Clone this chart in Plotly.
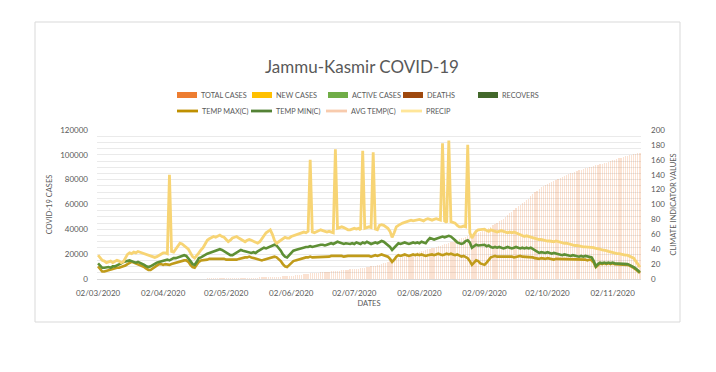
import plotly.graph_objects as go
import pandas as pd

# ---------------- data ----------------
dates = pd.date_range("2020-03-02", "2020-11-15", freq="D")

total_cases_mar = [0, 0, 0, 0, 0, 0, 0, 1, 1, 1, 1, 1, 2, 3, 3, 3, 4, 4, 4, 4, 7, 7, 11, 13, 18, 31, 38, 44, 55, 62]
total_cases_apr = [70, 75, 92, 106, 109, 125, 125, 158, 184, 207, 224, 245, 270, 278, 300, 314, 328, 341, 350, 354,
                   368, 380, 407, 434, 454, 494, 523, 546, 565, 614]
total_cases_may = [639, 666, 701, 726, 741, 775, 793, 823, 836, 861, 879, 934, 971, 983, 1013, 1121, 1183, 1289, 1317,
                   1390, 1449, 1489, 1569, 1621, 1668, 1759, 1817, 1921, 2036, 2164, 2341]
total_cases_jun = [2446, 2601, 2718, 2857, 3142, 3324, 3467, 3749, 3993, 4285, 4509, 4730, 4878, 5041, 5220, 5406,
                   5555, 5680, 5834, 5956, 6088, 6236, 6422, 6549, 6762, 6966, 7093, 7237, 7497, 7695]
total_cases_jul = [7849, 8019, 8206, 8429, 8675, 8931, 9061, 9501, 9889, 10156, 10513, 10827, 11173, 11666, 12156,
                   12757, 13198, 13899, 14650, 15258, 15711, 16236, 16782, 17305, 17927, 18390, 18879, 19418, 19927,
                   20359, 20972]
total_cases_aug = [21359, 21865, 22396, 22955, 23454, 23927, 24390, 24897, 25367, 25866, 26413, 26949, 27489, 28021,
                   28470, 29041, 29570, 30034, 30600, 31371, 31951, 32647, 33354, 33990, 34480, 35000, 35600, 36200,
                   36800, 37400, 37963]
total_cases_sep = [38600, 39200, 40000, 41200, 42100, 43100, 44000, 45300, 46600, 47500, 48700, 50100, 51600, 52900,
                   54100, 55600, 57000, 58700, 60000, 61000, 62000, 63300, 64800, 66500, 68200, 69800, 71000, 72400,
                   73800, 75000]
total_cases_oct = [76000, 76900, 77700, 78400, 79100, 80100, 80800, 81600, 82400, 83200, 83800, 84500, 85100, 85600,
                   86100, 86800, 87400, 87900, 88400, 89000, 89500, 90000, 90500, 91000, 91500, 92000, 92400, 92900,
                   93400, 93800, 94300]
total_cases_nov = [94900, 95600, 96200, 96800, 97300, 97800, 98300, 98800, 99300, 99800, 100200, 100600, 100900,
                   101200, 101500]
total_cases = (total_cases_mar + total_cases_apr + total_cases_may + total_cases_jun + total_cases_jul
               + total_cases_aug + total_cases_sep + total_cases_oct + total_cases_nov)

temp_max = (
    [17, 13, 10, 10, 11, 12, 12, 13, 14, 15, 15, 16, 16, 18, 20, 22, 23, 22, 21, 20, 19, 18, 16, 14, 12, 12, 14, 17, 19, 20]
    + [20, 19, 20, 19, 19, 20, 21, 22, 23, 23, 24, 25, 25, 23, 19, 16, 15, 19, 23, 25, 25, 26, 26, 27, 27, 27, 28, 28, 28, 27]
    + [27, 26, 26, 25, 26, 25, 26, 27, 28, 28, 29, 29, 30, 29, 28, 27, 26, 26, 25, 26, 27, 28, 29, 29, 30, 29, 27, 24, 20, 17, 16]
    + [19, 22, 24, 25, 26, 27, 28, 28, 29, 29, 30, 29, 29, 30, 29, 29, 30, 29, 30, 30, 31, 31, 32, 32, 31, 31, 30, 31, 31, 31]
    + [31, 32, 31, 32, 31, 32, 31, 32, 31, 30, 31, 32, 31, 32, 33, 32, 31, 30, 27, 23, 26, 30, 32, 31, 32, 33, 32, 31, 32, 33, 32]
    + [33, 32, 33, 32, 31, 32, 33, 33, 32, 33, 34, 33, 32, 33, 34, 33, 34, 33, 32, 33, 31, 30, 31, 30, 28, 24, 19, 22, 25, 24, 21]
    + [20, 19, 22, 26, 29, 30, 31, 30, 30, 31, 30, 30, 31, 30, 30, 29, 30, 30, 31, 30, 30, 29, 30, 30, 29, 28, 27, 27, 28, 27]
    + [27, 28, 27, 27, 26, 27, 27, 26, 27, 27, 26, 27, 26, 27, 26, 26, 27, 26, 26, 26, 25, 26, 25, 22, 16, 19, 21, 20, 21, 20, 21]
    + [20, 21, 20, 20, 19, 20, 19, 20, 19, 18, 17, 15, 13, 11, 8]
)

temp_min = (
    [21, 18, 15, 15, 16, 16, 15, 17, 17, 18, 19, 21, 23, 24, 25, 25, 24, 23, 22, 23, 22, 20, 19, 17, 16, 17, 19, 21, 22, 23]
    + [24, 25, 25, 26, 25, 27, 28, 28, 29, 30, 31, 32, 31, 28, 24, 20, 19, 23, 28, 29, 31, 32, 34, 35, 36, 36, 37, 39, 40, 39]
    + [37, 35, 33, 32, 32, 34, 36, 38, 39, 38, 37, 36, 35, 35, 36, 35, 37, 39, 41, 42, 41, 42, 44, 45, 46, 45, 42, 38, 33, 30, 29]
    + [32, 35, 38, 39, 40, 41, 42, 42, 43, 43, 44, 43, 44, 45, 45, 46, 46, 45, 46, 47, 48, 47, 49, 50, 49, 48, 47, 48, 47, 47]
    + [48, 47, 49, 48, 47, 49, 48, 50, 49, 47, 48, 49, 48, 50, 51, 50, 48, 46, 43, 39, 42, 46, 48, 47, 48, 49, 48, 47, 48, 49, 48]
    + [49, 48, 50, 49, 48, 52, 55, 54, 53, 54, 55, 56, 57, 56, 57, 58, 57, 55, 52, 49, 48, 47, 48, 51, 52, 49, 42, 44, 46, 45, 45]
    + [45, 46, 44, 45, 43, 42, 43, 42, 43, 42, 41, 42, 43, 42, 41, 42, 43, 42, 41, 42, 41, 42, 41, 42, 40, 38, 36, 35, 36, 35]
    + [35, 36, 35, 34, 35, 34, 33, 33, 32, 33, 32, 32, 31, 32, 31, 31, 30, 31, 30, 31, 30, 30, 29, 24, 17, 20, 22, 21, 22, 21, 22]
    + [21, 22, 21, 21, 20, 21, 20, 21, 20, 19, 18, 16, 14, 12, 9]
)

precip = (
    [32, 28, 25, 24, 22, 23, 24, 22, 23, 25, 24, 22, 23, 28, 33, 35, 34, 36, 35, 37, 36, 35, 34, 33, 32, 31, 30, 29, 30, 32]
    + [33, 35, 35, 34, 140, 37, 36, 40, 44, 48, 47, 45, 42, 40, 35, 30, 28, 31, 35, 39, 42, 47, 52, 54, 55, 57, 56, 58, 59, 57]
    + [56, 53, 50, 52, 55, 56, 57, 55, 53, 51, 50, 52, 53, 52, 51, 50, 48, 50, 54, 58, 62, 64, 66, 60, 52, 48, 50, 53, 55, 56, 55]
    + [55, 57, 58, 59, 60, 62, 63, 63, 62, 64, 160, 63, 62, 63, 65, 66, 65, 64, 63, 64, 63, 62, 174, 68, 69, 70, 69, 67, 66, 66]
    + [67, 68, 67, 68, 66, 172, 68, 69, 70, 69, 170, 67, 66, 72, 73, 72, 70, 68, 64, 56, 62, 70, 72, 74, 75, 76, 77, 78, 79, 78, 79]
    + [79, 80, 79, 78, 80, 81, 80, 79, 80, 81, 80, 79, 182, 78, 76, 186, 77, 76, 75, 72, 70, 70, 71, 70, 180, 62, 55, 60, 64, 66, 66]
    + [66, 67, 65, 64, 66, 65, 64, 63, 64, 65, 64, 63, 62, 63, 62, 63, 62, 60, 59, 58, 57, 58, 57, 56, 56, 55, 54, 53, 53, 52]
    + [52, 51, 51, 50, 50, 51, 50, 50, 49, 48, 48, 47, 47, 46, 45, 45, 44, 44, 43, 43, 43, 42, 42, 42, 41, 41, 40, 39, 39, 38, 37]
    + [36, 35, 35, 34, 34, 33, 33, 32, 32, 31, 30, 28, 24, 20, 16]
)

tick_dates = ["2020-03-02", "2020-04-02", "2020-05-02", "2020-06-02", "2020-07-02",
              "2020-08-02", "2020-09-02", "2020-10-02", "2020-11-02"]
tick_labels = ["02/03/2020", "02/04/2020", "02/05/2020", "02/06/2020", "02/07/2020",
               "02/08/2020", "02/09/2020", "02/10/2020", "02/11/2020"]

bar_names = ["TOTAL CASES", "NEW CASES", "ACTIVE CASES", "DEATHS", "RECOVERS"]
bar_colors = ["#ED7D31", "#FFC000", "#70AD47", "#9E480E", "#43682B"]
line_names = ["TEMP MAX(C)", "TEMP MIN(C)", "AVG TEMP(C)", "PRECIP"]
line_colors = ["#BF9000", "#548235", "#F8CBAD", "#FFE699"]

for arr in (total_cases, temp_max, temp_min, precip):
    assert len(arr) == len(dates), len(arr)

# ---------------- figure ----------------
OFF = 8                      # the page body margin shifts the figure by 8px
W, H = 716 - OFF, 372 - OFF
# plot area in page pixels: x 97..641, y 130..279
L, T = 97 - OFF, 130 - OFF
R, B = W - (641 - OFF), H - (279 - OFF)
PW, PH = W - L - R, H - T - B
FONT = "Lato"
GREY = "#595959"


def px(xpage):
    return (xpage - OFF - L) / PW


def py(ypage):
    return (H - B - (ypage - OFF)) / PH


fig = go.Figure()

fig.add_trace(go.Bar(
    x=dates, y=total_cases, name=bar_names[0], yaxis="y",
    marker=dict(color="rgba(237,125,49,0.22)", line=dict(width=0)),
    width=0.6 * 86400000, showlegend=False,
))

fig.add_trace(go.Scatter(x=dates, y=temp_max, name=line_names[0], yaxis="y2", mode="lines",
                         line=dict(color="#C09B1A", width=2.6), showlegend=False))
fig.add_trace(go.Scatter(x=dates, y=temp_min, name=line_names[1], yaxis="y2", mode="lines",
                         line=dict(color="#5E8F35", width=2.6), showlegend=False))
fig.add_trace(go.Scatter(x=dates, y=precip, name=line_names[3], yaxis="y2", mode="lines",
                         line=dict(color="#F7D474", width=2.8), showlegend=False))

shapes = []
annotations = []

# chart border
shapes.append(dict(type="rect", xref="paper", yref="paper",
                   x0=px(35), x1=px(680), y0=py(322), y1=py(22),
                   line=dict(color="#D9D9D9", width=1), fillcolor="rgba(0,0,0,0)", layer="below"))

# manual legend
row1_x = [177, 252, 328, 403, 478]
for name, color, x0 in zip(bar_names, bar_colors, row1_x):
    shapes.append(dict(type="rect", xref="paper", yref="paper",
                       x0=px(x0), x1=px(x0 + 20), y0=py(98), y1=py(92),
                       line=dict(width=0), fillcolor=color))
    annotations.append(dict(text=name, xref="paper", yref="paper", x=px(x0 + 22), y=py(95),
                            xanchor="left", yanchor="middle", showarrow=False,
                            font=dict(family=FONT, size=7.3, color=GREY)))
row2_x = [177, 251, 326, 401]
for name, color, x0 in zip(line_names, line_colors, row2_x):
    shapes.append(dict(type="line", xref="paper", yref="paper",
                       x0=px(x0), x1=px(x0 + 21), y0=py(111), y1=py(111),
                       line=dict(color=color, width=2.8)))
    annotations.append(dict(text=name, xref="paper", yref="paper", x=px(x0 + 23), y=py(111),
                            xanchor="left", yanchor="middle", showarrow=False,
                            font=dict(family=FONT, size=7.3, color=GREY)))

fig.update_layout(
    width=W, height=H, autosize=False,
    margin=dict(l=L, r=R, t=T, b=B, pad=0),
    paper_bgcolor="white", plot_bgcolor="white",
    font=dict(family=FONT, color=GREY),
    title=dict(text="Jammu-Kasmir COVID-19", x=px(362), xref="paper", xanchor="center",
               y=1 - (67 - OFF) / H, yref="container", yanchor="middle",
               font=dict(family=FONT, size=17, color=GREY)),
    showlegend=False,
    bargap=0,
    shapes=shapes,
    annotations=annotations,
    xaxis=dict(
        type="date",
        range=["2020-03-01 12:00", "2020-11-15 12:00"],
        tickmode="array", tickvals=tick_dates, ticktext=tick_labels,
        showgrid=False, zeroline=False,
        showline=True, linecolor="#D9D9D9", linewidth=1,
        ticks="", tickfont=dict(family=FONT, size=8, color=GREY),
        ticklabelstandoff=6,
        title=dict(text="DATES", font=dict(family=FONT, size=7.5, color=GREY), standoff=4),
    ),
    yaxis=dict(
        range=[0, 120000], tick0=0, dtick=20000, tickformat="d",
        showgrid=True, gridcolor="#EAEAEA", gridwidth=1,
        minor=dict(dtick=5000, showgrid=True, gridcolor="#EAEAEA", gridwidth=1),
        zeroline=False, showline=False, ticks="",
        tickfont=dict(family=FONT, size=8, color=GREY),
        ticklabelstandoff=8,
        title=dict(text="COVID-19 CASES", font=dict(family=FONT, size=7.5, color=GREY), standoff=6),
    ),
    yaxis2=dict(
        overlaying="y", side="right",
        range=[0, 200], tick0=0, dtick=20,
        showgrid=False, zeroline=False, showline=False, ticks="",
        tickfont=dict(family=FONT, size=8, color=GREY),
        ticklabelstandoff=9,
        title=dict(text="CLIMATE INDICATOR VALUES", font=dict(family=FONT, size=7.5, color=GREY), standoff=6),
    ),
)

fig.write_html("out.html")
